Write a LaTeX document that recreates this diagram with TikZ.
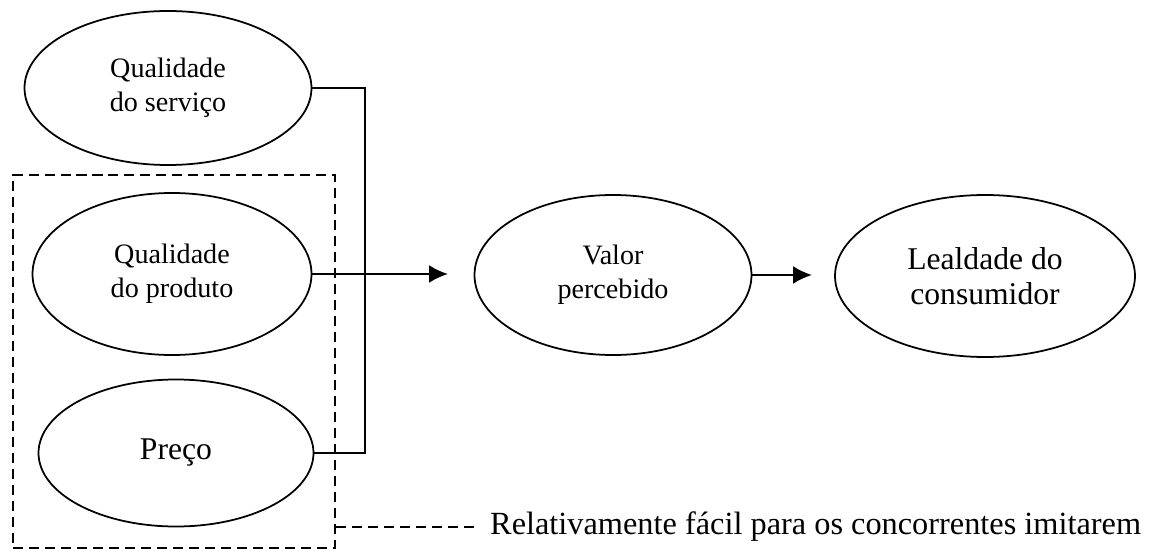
\documentclass[tikz,border=0pt]{standalone}
\usepackage{fontspec}
\setmainfont{Liberation Serif}
\usetikzlibrary{arrows.meta, shapes.geometric, positioning}

\begin{document}
\begin{tikzpicture}[
    elip/.style={draw, ellipse, line width=1pt, inner sep=0pt, align=center,
      font=\fontsize{16}{19.3}\selectfont},
    liga/.style={line width=1pt},
    seta/.style={line width=1.3pt, -{Latex[length=3.8mm, width=3.6mm]}},
    tracos/.style={line width=1.1pt, dash pattern=on 5.7pt off 3.4pt}
  ]
  \useasboundingbox (0, 0) rectangle (23, 11.02);

  % Nodes
  \node[elip, minimum width=5.74cm, minimum height=3.08cm] (serv) at (3.36, 9.26) {Qualidade\\do serviço};
  \node[elip, minimum width=5.58cm, minimum height=3.24cm] (prod) at (3.44, 5.54) {Qualidade\\do produto};
  \node[elip, minimum width=5.5cm, minimum height=2.94cm,
    font=\fontsize{18}{21}\selectfont] (preco) at (3.52, 1.96) {Preço};
  \node[elip, minimum width=5.54cm, minimum height=3.2cm] (valor) at (12.26, 5.52) {Valor\\percebido};
  \node[elip, minimum width=6cm, minimum height=3.24cm,
    font=\fontsize{18}{20}\selectfont] (leal) at (19.7, 5.5) {Lealdade do\\consumidor};

  \node[tracos, draw, minimum width=6.44cm, minimum height=7.46cm] (grupo) at (3.48, 3.79) {};
  \node[anchor=west, font=\fontsize{18.4}{21}\selectfont] (rotulo) at (9.68, 0.48)
    {Relativamente fácil para os concorrentes imitarem};

  \coordinate (barra) at (7.3, 0);
  \coordinate (pontaA) at (8.96, 0);
  \coordinate (pontaB) at (16.24, 0);

  % Edges
  \draw[liga] (serv.east) -| (barra |- preco.east) -- (preco.east);
  \draw[seta] (prod.east) -- (prod.east -| pontaA);
  \draw[seta] (valor.east) -- (valor.east -| pontaB);
  \draw[tracos] (grupo.east |- rotulo.west) -- ([xshift=-0.14cm]rotulo.west);

\end{tikzpicture}
\end{document}
